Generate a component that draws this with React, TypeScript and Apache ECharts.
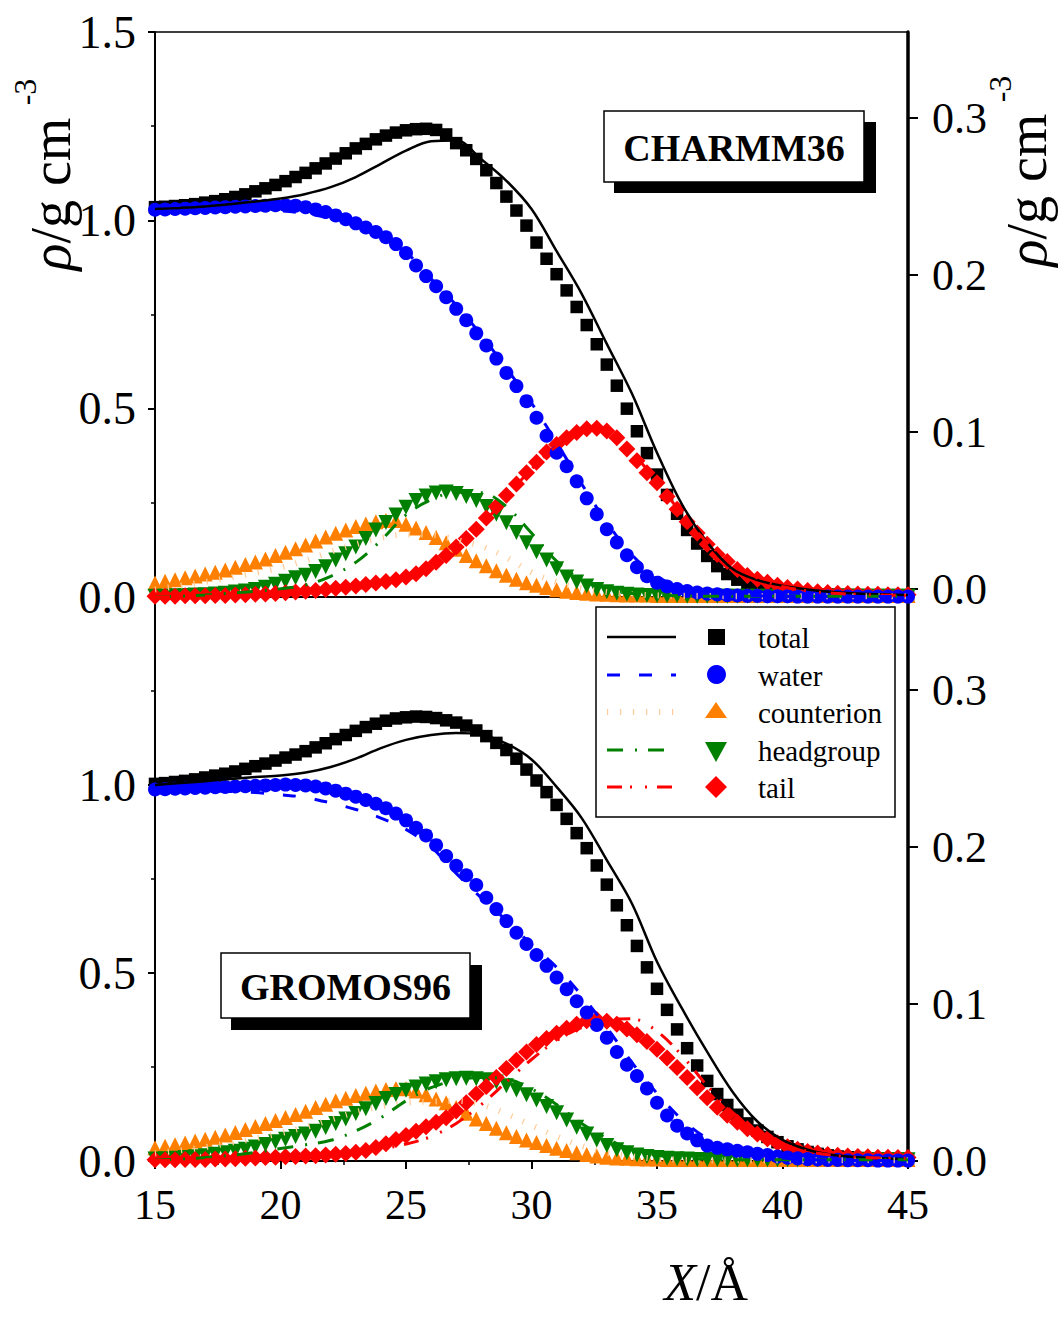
import React, { useEffect, useRef } from "react";
import * as echarts from "echarts";

// ---------- sampling positions (Å) ----------
const X_MARK = [
  15.0, 15.4, 15.8, 16.2, 16.6, 17.0, 17.4, 17.8, 18.2, 18.6, 19.0, 19.4, 19.8, 20.2, 20.6,
  21.0, 21.4, 21.8, 22.2, 22.6, 23.0, 23.4, 23.8, 24.2, 24.6, 25.0, 25.4, 25.8, 26.2, 26.6,
  27.0, 27.4, 27.8, 28.2, 28.6, 29.0, 29.4, 29.8, 30.2, 30.6, 31.0, 31.4, 31.8, 32.2, 32.6,
  33.0, 33.4, 33.8, 34.2, 34.6, 35.0, 35.4, 35.8, 36.2, 36.6, 37.0, 37.4, 37.8, 38.2, 38.6,
  39.0, 39.4, 39.8, 40.2, 40.6, 41.0, 41.4, 41.8, 42.2, 42.6, 43.0, 43.4, 43.8, 44.2, 44.6, 45.0,
];
const X_LINE = [
  15, 16, 17, 18, 19, 20, 21, 22, 23, 24, 25, 26, 27, 28, 29, 30,
  31, 32, 33, 34, 35, 36, 37, 38, 39, 40, 41, 42, 43, 44, 45,
];

// ---------- CHARMM36 (top panel) ----------
const C36_TOTAL_PTS = [
  1.035, 1.036, 1.038, 1.040, 1.043, 1.047, 1.051, 1.056, 1.062, 1.069, 1.077, 1.085, 1.094, 1.104, 1.115,
  1.126, 1.138, 1.151, 1.164, 1.178, 1.191, 1.203, 1.215, 1.225, 1.233, 1.239, 1.242, 1.243, 1.240, 1.228,
  1.205, 1.186, 1.163, 1.133, 1.099, 1.063, 1.026, 0.986, 0.941, 0.898, 0.857, 0.814, 0.770, 0.722, 0.671,
  0.617, 0.561, 0.500, 0.440, 0.382, 0.325, 0.271, 0.221, 0.178, 0.142, 0.109, 0.082, 0.061, 0.046, 0.035,
  0.026, 0.020, 0.015, 0.012, 0.010, 0.008, 0.007, 0.006, 0.006, 0.005, 0.005, 0.004, 0.004, 0.004, 0.003, 0.003,
];
const C36_TOTAL_LINE = [
  1.030, 1.033, 1.037, 1.043, 1.050, 1.058, 1.070, 1.088, 1.115, 1.150, 1.185, 1.210, 1.212, 1.162, 1.105, 1.030,
  0.918, 0.805, 0.672, 0.540, 0.383, 0.245, 0.145, 0.075, 0.045, 0.030, 0.020, 0.013, 0.009, 0.007, 0.005,
];
const C36_WATER_PTS = [
  1.028, 1.029, 1.030, 1.031, 1.032, 1.033, 1.034, 1.035, 1.036, 1.037, 1.038, 1.039, 1.040, 1.040, 1.039,
  1.035, 1.029, 1.022, 1.013, 1.003, 0.992, 0.981, 0.969, 0.955, 0.937, 0.913, 0.880, 0.852, 0.825, 0.796,
  0.765, 0.735, 0.700, 0.668, 0.633, 0.595, 0.560, 0.520, 0.476, 0.428, 0.383, 0.347, 0.307, 0.262, 0.220,
  0.180, 0.145, 0.111, 0.079, 0.055, 0.038, 0.028, 0.021, 0.016, 0.012, 0.009, 0.007, 0.005, 0.004, 0.003,
  0.003, 0.002, 0.002, 0.002, 0.001, 0.001, 0.001, 0.001, 0.001, 0.001, 0.001, 0.001, 0.001, 0.001, 0.001, 0.001,
];
const C36_WATER_LINE = [
  1.022, 1.025, 1.027, 1.029, 1.028, 1.025, 1.018, 1.005, 0.985, 0.955, 0.915, 0.845, 0.775, 0.695, 0.607, 0.515,
  0.410, 0.300, 0.198, 0.112, 0.055, 0.025, 0.012, 0.006, 0.003, 0.002, 0.001, 0.001, 0.001, 0.001, 0.001,
];
const C36_ION_PTS = [
  0.037, 0.042, 0.046, 0.051, 0.056, 0.061, 0.066, 0.072, 0.079, 0.086, 0.093, 0.101, 0.110, 0.119, 0.128,
  0.138, 0.149, 0.159, 0.169, 0.178, 0.187, 0.194, 0.200, 0.203, 0.203, 0.193, 0.183, 0.171, 0.158, 0.144,
  0.127, 0.110, 0.096, 0.083, 0.070, 0.058, 0.047, 0.038, 0.031, 0.025, 0.019, 0.015, 0.012, 0.010, 0.008,
  0.007, 0.006, 0.005, 0.005, 0.005, 0.004, 0.004, 0.004, 0.004, 0.004, 0.004, 0.004, 0.004, 0.004, 0.004,
  0.004, 0.004, 0.004, 0.004, 0.004, 0.004, 0.004, 0.004, 0.004, 0.004, 0.004, 0.004, 0.004, 0.004, 0.004, 0.004,
];
const C36_ION_LINE = [
  0.020, 0.030, 0.040, 0.052, 0.064, 0.078, 0.097, 0.120, 0.140, 0.157, 0.166, 0.165, 0.152, 0.135, 0.105, 0.065,
  0.040, 0.023, 0.013, 0.007, 0.004, 0.003, 0.003, 0.002, 0.002, 0.002, 0.002, 0.002, 0.002, 0.002, 0.002,
];
const C36_HEAD_PTS = [
  0.002, 0.002, 0.003, 0.004, 0.005, 0.006, 0.008, 0.010, 0.013, 0.016, 0.020, 0.026, 0.034, 0.042, 0.051,
  0.058, 0.068, 0.080, 0.098, 0.115, 0.133, 0.155, 0.178, 0.198, 0.218, 0.238, 0.256, 0.268, 0.276, 0.279,
  0.275, 0.267, 0.256, 0.240, 0.220, 0.197, 0.171, 0.144, 0.120, 0.098, 0.075, 0.053, 0.040, 0.029, 0.020,
  0.014, 0.010, 0.007, 0.005, 0.004, 0.003, 0.003, 0.003, 0.002, 0.002, 0.002, 0.002, 0.002, 0.002, 0.002,
  0.002, 0.002, 0.002, 0.002, 0.002, 0.002, 0.002, 0.002, 0.002, 0.002, 0.002, 0.002, 0.002, 0.002, 0.002, 0.002,
];
const C36_HEAD_LINE = [
  0.000, 0.002, 0.005, 0.010, 0.015, 0.022, 0.032, 0.055, 0.092, 0.150, 0.218, 0.258, 0.278, 0.277, 0.240, 0.170,
  0.095, 0.045, 0.020, 0.009, 0.005, 0.003, 0.002, 0.002, 0.002, 0.002, 0.002, 0.002, 0.002, 0.002, 0.002,
];
const C36_TAIL_PTS = [
  0.002, 0.002, 0.002, 0.003, 0.003, 0.003, 0.004, 0.004, 0.005, 0.006, 0.007, 0.008, 0.009, 0.011, 0.013,
  0.015, 0.017, 0.020, 0.023, 0.026, 0.029, 0.033, 0.037, 0.041, 0.046, 0.053, 0.062, 0.075, 0.092, 0.110,
  0.133, 0.155, 0.180, 0.210, 0.240, 0.270, 0.300, 0.330, 0.358, 0.385, 0.405, 0.423, 0.437, 0.447, 0.448,
  0.441, 0.423, 0.393, 0.362, 0.330, 0.303, 0.267, 0.233, 0.200, 0.170, 0.140, 0.113, 0.094, 0.073, 0.057,
  0.047, 0.039, 0.031, 0.025, 0.021, 0.017, 0.014, 0.012, 0.010, 0.009, 0.008, 0.007, 0.007, 0.006, 0.006, 0.006,
];
const C36_TAIL_LINE = [
  0.000, 0.001, 0.002, 0.003, 0.005, 0.008, 0.011, 0.016, 0.022, 0.032, 0.045, 0.075, 0.120, 0.190, 0.265, 0.340,
  0.400, 0.440, 0.445, 0.385, 0.305, 0.220, 0.145, 0.090, 0.050, 0.028, 0.016, 0.010, 0.007, 0.005, 0.004,
];

// ---------- GROMOS96 (bottom panel) ----------
const G96_TOTAL_PTS = [
  1.003, 1.005, 1.008, 1.011, 1.015, 1.020, 1.025, 1.030, 1.036, 1.043, 1.050, 1.057, 1.065, 1.073, 1.081,
  1.090, 1.100, 1.111, 1.122, 1.133, 1.144, 1.154, 1.163, 1.171, 1.177, 1.180, 1.182, 1.181, 1.178, 1.172,
  1.166, 1.158, 1.145, 1.130, 1.112, 1.093, 1.070, 1.041, 1.012, 0.981, 0.947, 0.910, 0.872, 0.832, 0.786,
  0.735, 0.680, 0.627, 0.572, 0.515, 0.458, 0.402, 0.350, 0.300, 0.254, 0.213, 0.178, 0.149, 0.123, 0.100,
  0.081, 0.064, 0.050, 0.039, 0.031, 0.024, 0.019, 0.015, 0.012, 0.010, 0.008, 0.007, 0.006, 0.005, 0.005, 0.004,
];
const G96_TOTAL_LINE = [
  1.000, 1.005, 1.010, 1.016, 1.021, 1.025, 1.033, 1.048, 1.070, 1.098, 1.120, 1.133, 1.138, 1.134, 1.110, 1.068,
  0.995, 0.912, 0.800, 0.685, 0.530, 0.405, 0.290, 0.185, 0.105, 0.056, 0.030, 0.016, 0.010, 0.007, 0.005,
];
const G96_WATER_PTS = [
  0.988, 0.989, 0.990, 0.991, 0.992, 0.993, 0.994, 0.995, 0.996, 0.997, 0.998, 0.999, 1.000, 1.001, 1.000,
  0.999, 0.996, 0.991, 0.985, 0.977, 0.969, 0.960, 0.950, 0.938, 0.924, 0.906, 0.886, 0.866, 0.840, 0.811,
  0.785, 0.760, 0.734, 0.700, 0.670, 0.638, 0.607, 0.577, 0.548, 0.519, 0.488, 0.457, 0.425, 0.395, 0.362,
  0.328, 0.290, 0.256, 0.226, 0.193, 0.155, 0.121, 0.094, 0.073, 0.055, 0.041, 0.035, 0.031, 0.027, 0.023,
  0.019, 0.016, 0.012, 0.009, 0.007, 0.005, 0.004, 0.003, 0.003, 0.002, 0.002, 0.002, 0.001, 0.001, 0.001, 0.001,
];
const G96_WATER_LINE = [
  0.985, 0.986, 0.985, 0.983, 0.980, 0.974, 0.967, 0.952, 0.935, 0.912, 0.882, 0.835, 0.765, 0.700, 0.640, 0.575,
  0.515, 0.440, 0.355, 0.262, 0.180, 0.110, 0.060, 0.032, 0.016, 0.008, 0.004, 0.002, 0.001, 0.001, 0.001,
];
const G96_ION_PTS = [
  0.035, 0.039, 0.043, 0.048, 0.053, 0.058, 0.063, 0.069, 0.076, 0.084, 0.092, 0.100, 0.108, 0.116, 0.124,
  0.132, 0.142, 0.151, 0.160, 0.167, 0.174, 0.180, 0.186, 0.190, 0.193, 0.192, 0.186, 0.176, 0.165, 0.155,
  0.142, 0.127, 0.112, 0.100, 0.087, 0.075, 0.065, 0.056, 0.049, 0.041, 0.034, 0.028, 0.022, 0.017, 0.013,
  0.010, 0.008, 0.007, 0.006, 0.005, 0.005, 0.004, 0.004, 0.004, 0.004, 0.004, 0.004, 0.004, 0.004, 0.004,
  0.004, 0.004, 0.004, 0.004, 0.004, 0.004, 0.004, 0.004, 0.004, 0.004, 0.004, 0.004, 0.004, 0.004, 0.004, 0.004,
];
const G96_ION_LINE = [
  0.020, 0.028, 0.037, 0.048, 0.060, 0.074, 0.090, 0.110, 0.130, 0.145, 0.155, 0.158, 0.160, 0.150, 0.125, 0.095,
  0.065, 0.040, 0.022, 0.012, 0.006, 0.003, 0.002, 0.002, 0.002, 0.002, 0.002, 0.002, 0.002, 0.002, 0.002,
];
const G96_HEAD_PTS = [
  0.005, 0.006, 0.007, 0.009, 0.011, 0.014, 0.018, 0.022, 0.026, 0.031, 0.037, 0.044, 0.051, 0.058, 0.065,
  0.072, 0.079, 0.089, 0.100, 0.112, 0.126, 0.139, 0.153, 0.166, 0.177, 0.188, 0.197, 0.205, 0.211, 0.216,
  0.219, 0.220, 0.219, 0.216, 0.210, 0.200, 0.189, 0.176, 0.162, 0.145, 0.128, 0.109, 0.090, 0.072, 0.056,
  0.041, 0.030, 0.022, 0.016, 0.012, 0.009, 0.007, 0.006, 0.005, 0.004, 0.004, 0.004, 0.003, 0.003, 0.003,
  0.003, 0.003, 0.003, 0.003, 0.003, 0.003, 0.003, 0.003, 0.003, 0.003, 0.003, 0.003, 0.003, 0.003, 0.003, 0.003,
];
const G96_HEAD_LINE = [
  0.002, 0.005, 0.009, 0.015, 0.023, 0.033, 0.043, 0.055, 0.080, 0.115, 0.160, 0.195, 0.215, 0.222, 0.218, 0.192,
  0.150, 0.100, 0.060, 0.030, 0.015, 0.008, 0.005, 0.003, 0.003, 0.003, 0.003, 0.003, 0.003, 0.003, 0.003,
];
const G96_TAIL_PTS = [
  0.003, 0.003, 0.003, 0.004, 0.004, 0.004, 0.005, 0.005, 0.006, 0.007, 0.008, 0.009, 0.010, 0.011, 0.012,
  0.013, 0.014, 0.016, 0.018, 0.020, 0.023, 0.028, 0.036, 0.046, 0.057, 0.068, 0.079, 0.091, 0.103, 0.115,
  0.133, 0.155, 0.178, 0.198, 0.222, 0.246, 0.268, 0.290, 0.310, 0.326, 0.340, 0.353, 0.364, 0.373, 0.376,
  0.372, 0.364, 0.351, 0.336, 0.318, 0.297, 0.274, 0.249, 0.222, 0.195, 0.168, 0.143, 0.122, 0.103, 0.086,
  0.072, 0.059, 0.048, 0.038, 0.031, 0.025, 0.021, 0.017, 0.015, 0.013, 0.012, 0.011, 0.010, 0.010, 0.009, 0.009,
];
const G96_TAIL_LINE = [
  0.001, 0.002, 0.003, 0.004, 0.006, 0.008, 0.011, 0.015, 0.021, 0.032, 0.045, 0.065, 0.100, 0.150, 0.210, 0.270,
  0.320, 0.355, 0.375, 0.378, 0.345, 0.280, 0.200, 0.130, 0.080, 0.046, 0.026, 0.015, 0.010, 0.008, 0.007,
];

// ---------- axis ticks / labels ----------
const LEFT_TICKS_TOP = [0, 0.5, 1.0, 1.5];
const LEFT_TICKS_BOTTOM = [0, 0.5, 1.0];
const RIGHT_TICKS = [0, 0.1, 0.2, 0.3];
const X_TICKS = [15, 20, 25, 30, 35, 40, 45];

const LEGEND_NAMES = ["total", "water", "counterion", "headgroup", "tail"];
const PANEL_LABELS = ["CHARMM36", "GROMOS96"];

const FONT = "'Liberation Serif', 'Times New Roman', Times, serif";

type Style = {
  color: string;
  symbol: string;
  size: number;
  rotate?: number;
  lineColor: string;
  lineWidth: number;
  dash: number[] | "solid";
};

const STYLES: Record<string, Style> = {
  total: { color: "#000000", symbol: "rect", size: 12.5, lineColor: "#000000", lineWidth: 2.5, dash: "solid" },
  water: { color: "#0000ff", symbol: "circle", size: 14, lineColor: "#0000ff", lineWidth: 3, dash: [13, 19] },
  counterion: { color: "#ff8000", symbol: "triangle", size: 15, lineColor: "#ffcc99", lineWidth: 6, dash: [1.2, 11.8] },
  headgroup: { color: "#008000", symbol: "triangle", rotate: 180, size: 15, lineColor: "#008000", lineWidth: 3, dash: [16, 12, 2, 11] },
  tail: { color: "#ff0000", symbol: "diamond", size: 17, lineColor: "#ff0000", lineWidth: 3, dash: [15, 8, 2, 13, 2, 10] },
};

function pairs(xs: number[], ys: number[]) {
  const n = Math.min(xs.length, ys.length);
  const out: number[][] = [];
  for (let i = 0; i < n; i++) out.push([xs[i], ys[i]]);
  return out;
}

const PANELS = [
  {
    pts: { total: C36_TOTAL_PTS, water: C36_WATER_PTS, counterion: C36_ION_PTS, headgroup: C36_HEAD_PTS, tail: C36_TAIL_PTS },
    lines: { total: C36_TOTAL_LINE, water: C36_WATER_LINE, counterion: C36_ION_LINE, headgroup: C36_HEAD_LINE, tail: C36_TAIL_LINE },
  },
  {
    pts: { total: G96_TOTAL_PTS, water: G96_WATER_PTS, counterion: G96_ION_PTS, headgroup: G96_HEAD_PTS, tail: G96_TAIL_PTS },
    lines: { total: G96_TOTAL_LINE, water: G96_WATER_LINE, counterion: G96_ION_LINE, headgroup: G96_HEAD_LINE, tail: G96_TAIL_LINE },
  },
];

const MARKER_ORDER = ["total", "counterion", "headgroup", "tail", "water"];

function buildSeries() {
  const series: any[] = [];
  PANELS.forEach((p: any, pi) => {
    MARKER_ORDER.forEach((key) => {
      const st = STYLES[key];
      series.push({
        type: "scatter",
        name: key + pi,
        xAxisIndex: pi,
        yAxisIndex: pi,
        data: pairs(X_MARK, p.pts[key]),
        symbol: st.symbol,
        symbolSize: st.size,
        symbolRotate: st.rotate || 0,
        itemStyle: { color: st.color, opacity: 1 },
        silent: true,
        z: 2,
      });
    });
    MARKER_ORDER.forEach((key) => {
      const st = STYLES[key];
      series.push({
        type: "line",
        name: key + "_line" + pi,
        xAxisIndex: pi,
        yAxisIndex: pi,
        data: pairs(X_LINE, p.lines[key]),
        smooth: 0.35,
        symbol: "none",
        lineStyle: { color: st.lineColor, width: st.lineWidth, type: st.dash },
        silent: true,
        z: 3,
      });
    });
  });
  return series;
}

const fmt1 = (v: number) => (Math.abs(v * 10 - Math.round(v * 10)) < 1e-6 ? v.toFixed(1) : "");

function leftAxis(gridIndex: number, ticks: number[]) {
  return {
    gridIndex,
    type: "value",
    position: "left",
    min: 0,
    max: 1.5,
    interval: 0.5,
    axisLine: { show: true, onZero: false, lineStyle: { color: "#000", width: 2 } },
    axisTick: { show: true, length: 7, lineStyle: { color: "#000", width: 2 } },
    minorTick: { show: true, splitNumber: 2, length: 4, lineStyle: { color: "#000", width: 1.5 } },
    axisLabel: {
      customValues: ticks,
      formatter: fmt1,
      fontFamily: FONT,
      fontSize: 46,
      color: "#000",
      margin: 19,
    },
    splitLine: { show: false },
  };
}

function rightAxis(gridIndex: number, max: number) {
  return {
    gridIndex,
    type: "value",
    position: "right",
    min: 0,
    max,
    axisLine: { show: true, onZero: false, lineStyle: { color: "#000", width: 3.5 } },
    axisTick: { show: true, customValues: RIGHT_TICKS, length: 10, lineStyle: { color: "#000", width: 2 } },
    axisLabel: {
      customValues: RIGHT_TICKS,
      formatter: fmt1,
      fontFamily: FONT,
      fontSize: 44,
      color: "#000",
      margin: 24,
    },
    splitLine: { show: false },
  };
}

function legendGraphics() {
  const els: any[] = [];
  els.push({
    type: "rect",
    shape: { x: 596, y: 607, width: 299, height: 210 },
    style: { fill: "#ffffff", stroke: "#000000", lineWidth: 1.5 },
    z: 100,
  });
  const rowsY = [637, 675, 712, 750, 787];
  LEGEND_NAMES.forEach((name, i) => {
    const st = STYLES[name];
    const y = rowsY[i];
    els.push({
      type: "line",
      shape: { x1: 607, y1: y, x2: 676, y2: y },
      style: {
        stroke: st.lineColor,
        lineWidth: name === "counterion" ? 6 : st.lineWidth,
        lineDash: st.dash === "solid" ? null : st.dash,
      },
      z: 101,
    });
    const cx = 716;
    let m: any;
    if (name === "total") m = { type: "rect", shape: { x: 708, y: y - 8, width: 17, height: 16 } };
    else if (name === "water") m = { type: "circle", shape: { cx: cx + 0.5, cy: y - 0.5, r: 9.5 } };
    else if (name === "counterion")
      m = { type: "polygon", shape: { points: [[705, y + 6], [727, y + 6], [716, y - 10]] } };
    else if (name === "headgroup")
      m = { type: "polygon", shape: { points: [[705, y - 8], [727, y - 8], [716, y + 12]] } };
    else m = { type: "polygon", shape: { points: [[705, y], [716, y - 11], [727, y], [716, y + 11]] } };
    m.style = { fill: st.color };
    m.z = 101;
    els.push(m);
    els.push({
      type: "text",
      x: 758,
      y: y + 1,
      style: { text: name, fontFamily: FONT, fontSize: 29, fill: "#000", textAlign: "left", textVerticalAlign: "middle" },
      z: 101,
    });
  });
  return els;
}

function labelBox(text: string, x: number, y: number, w: number, h: number, sdx: number, sdy: number) {
  return [
    { type: "rect", shape: { x: x + sdx, y: y + sdy, width: w + 2, height: h }, style: { fill: "#000" }, z: 100 },
    { type: "rect", shape: { x, y, width: w, height: h }, style: { fill: "#fff", stroke: "#000", lineWidth: 1.5 }, z: 101 },
    {
      type: "text",
      x: x + w / 2,
      y: y + h / 2 + 1,
      style: {
        text,
        fontFamily: FONT,
        fontWeight: "bold",
        fontSize: 38,
        fill: "#000",
        textAlign: "center",
        textVerticalAlign: "middle",
      },
      z: 102,
    },
  ];
}

function titleGraphics() {
  const rich = {
    i: { fontFamily: FONT, fontSize: 56, fontStyle: "italic", fill: "#000" },
    n: { fontFamily: FONT, fontSize: 56, fill: "#000" },
  };
  return [
    {
      type: "text",
      x: 51,
      y: 194,
      rotation: Math.PI / 2,
      style: { text: "{i|ρ}{n|/g cm}", rich, textAlign: "center", textVerticalAlign: "middle", fill: "#000" },
      z: 100,
    },
    {
      type: "text",
      x: 25,
      y: 92,
      rotation: Math.PI / 2,
      style: { text: "-3", fontFamily: FONT, fontSize: 32, fill: "#000", textAlign: "center", textVerticalAlign: "middle" },
      z: 100,
    },
    {
      type: "text",
      x: 1027,
      y: 190,
      rotation: Math.PI / 2,
      style: { text: "{i|ρ}{n|/g cm}", rich, textAlign: "center", textVerticalAlign: "middle", fill: "#000" },
      z: 100,
    },
    {
      type: "text",
      x: 1000,
      y: 89,
      rotation: Math.PI / 2,
      style: { text: "-3", fontFamily: FONT, fontSize: 32, fill: "#000", textAlign: "center", textVerticalAlign: "middle" },
      z: 100,
    },
    {
      type: "text",
      x: 696,
      y: 1282,
      style: { text: "X", fontFamily: FONT, fontSize: 52, fontStyle: "italic", fill: "#000", textAlign: "right", textVerticalAlign: "middle" },
      z: 100,
    },
    {
      type: "text",
      x: 696,
      y: 1282,
      style: { text: "/Å", fontFamily: FONT, fontSize: 52, fill: "#000", textAlign: "left", textVerticalAlign: "middle" },
      z: 100,
    },
  ];
}

export default function App() {
  const ref = useRef<HTMLDivElement>(null);
  useEffect(() => {
    if (!ref.current) return;
    const chart = echarts.init(ref.current, undefined, { renderer: "svg" });
    const option: any = {
      animation: false,
      backgroundColor: "#ffffff",
      grid: [
        { left: 155, top: 32, width: 753, height: 565, show: true, borderColor: "#000", borderWidth: 1.5, backgroundColor: "transparent" },
        { left: 155, top: 597, width: 753, height: 564, show: true, borderColor: "#000", borderWidth: 1.5, backgroundColor: "transparent" },
        { left: 155, top: 32, width: 753, height: 557 },
        { left: 155, top: 596, width: 753, height: 565 },
      ],
      xAxis: [
        {
          gridIndex: 0, type: "value", min: 15, max: 45, interval: 5,
          axisLine: { show: true, onZero: false, lineStyle: { color: "#000", width: 2 } },
          axisTick: { show: false }, axisLabel: { show: false }, splitLine: { show: false },
        },
        {
          gridIndex: 1, type: "value", min: 15, max: 45, interval: 5,
          axisLine: { show: true, onZero: false, lineStyle: { color: "#000", width: 2 } },
          axisTick: { show: true, length: 8, customValues: X_TICKS, lineStyle: { color: "#000", width: 2 } },
          minorTick: { show: true, splitNumber: 2, length: 4, lineStyle: { color: "#000", width: 1.5 } },
          axisLabel: { customValues: X_TICKS, fontFamily: FONT, fontSize: 42, color: "#000", margin: 23 },
          splitLine: { show: false },
        },
        { gridIndex: 2, type: "value", min: 15, max: 45, show: false },
        { gridIndex: 3, type: "value", min: 15, max: 45, show: false },
      ],
      yAxis: [
        leftAxis(0, LEFT_TICKS_TOP),
        leftAxis(1, LEFT_TICKS_BOTTOM),
        rightAxis(2, 0.3548),
        rightAxis(3, 0.36),
      ],
      series: buildSeries(),
      graphic: [
        ...labelBox(PANEL_LABELS[0], 604, 111, 260, 71, 10, 11),
        ...labelBox(PANEL_LABELS[1], 221, 953, 249, 65, 10, 12),
        ...legendGraphics(),
        ...titleGraphics(),
      ],
    };
    chart.setOption(option);
    return () => chart.dispose();
  }, []);
  return (
    <div
      ref={ref}
      style={{ position: "absolute", left: 0, top: 0, width: 1059, height: 1317, background: "#fff" }}
    />
  );
}
